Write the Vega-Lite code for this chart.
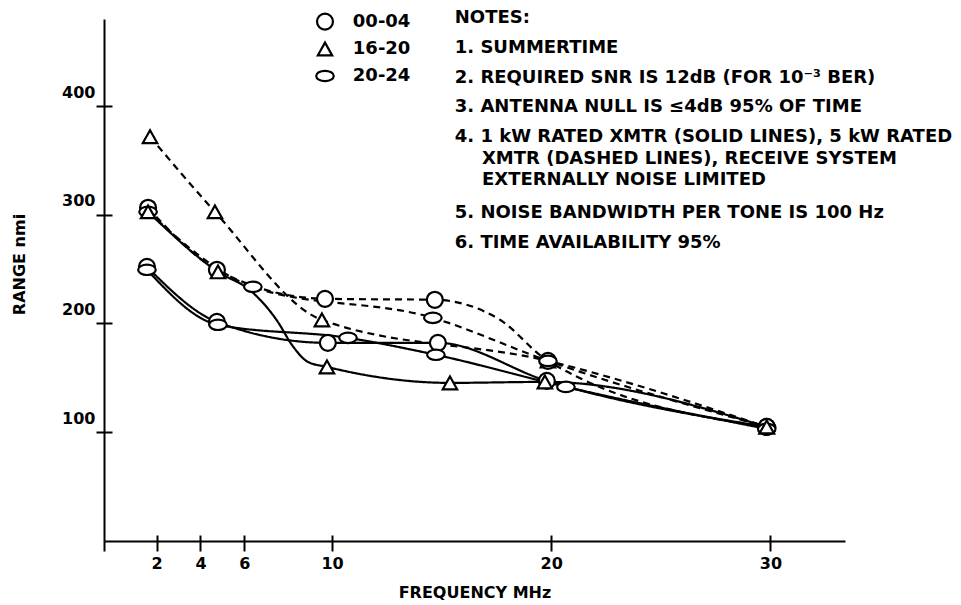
{
  "$schema": "https://vega.github.io/schema/vega-lite/v6.json",
  "width": 741,
  "height": 522,
  "autosize": {"type": "none"},
  "padding": {"left": 104, "top": 19, "right": 116, "bottom": 64},
  "background": "white",
  "config": {
    "view": {"stroke": null},
    "axis": {
      "grid": false,
      "domainColor": "black",
      "tickColor": "black",
      "labelColor": "black",
      "titleColor": "black",
      "labelFont": "DejaVu Sans",
      "labelFontWeight": "bold",
      "labelFontSize": 16,
      "titleFont": "DejaVu Sans",
      "titleFontWeight": "bold",
      "titleFontSize": 16,
      "domainWidth": 2,
      "tickWidth": 2
    }
  },
  "datasets": {
    "curves": [
      {"time": "16-20", "power": "5 kW", "f": 1.70, "r": 371.8, "mark": true},
      {"time": "16-20", "power": "5 kW", "f": 4.66, "r": 302.7, "mark": true},
      {"time": "16-20", "power": "5 kW", "f": 9.54, "r": 203.3, "mark": true},
      {"time": "16-20", "power": "5 kW", "f": 19.85, "r": 165.6, "mark": true},
      {"time": "16-20", "power": "5 kW", "f": 29.83, "r": 104.9, "mark": true},
      {"time": "00-04", "power": "5 kW", "f": 1.61, "r": 306.4, "mark": true},
      {"time": "00-04", "power": "5 kW", "f": 4.75, "r": 249.4, "mark": true},
      {"time": "00-04", "power": "5 kW", "f": 9.68, "r": 222.7, "mark": true},
      {"time": "00-04", "power": "5 kW", "f": 14.69, "r": 221.8, "mark": true},
      {"time": "00-04", "power": "5 kW", "f": 17.66, "r": 203.4, "mark": false},
      {"time": "00-04", "power": "5 kW", "f": 19.85, "r": 165.6, "mark": true},
      {"time": "00-04", "power": "5 kW", "f": 29.83, "r": 104.9, "mark": true},
      {"time": "20-24", "power": "5 kW", "f": 1.61, "r": 302.7, "mark": true},
      {"time": "20-24", "power": "5 kW", "f": 6.39, "r": 233.7, "mark": true},
      {"time": "20-24", "power": "5 kW", "f": 14.6, "r": 205.2, "mark": true},
      {"time": "20-24", "power": "5 kW", "f": 19.85, "r": 165.6, "mark": true},
      {"time": "20-24", "power": "5 kW", "f": 29.83, "r": 104.9, "mark": true},
      {"time": "00-04", "power": "1 kW", "f": 1.56, "r": 252.1, "mark": true},
      {"time": "00-04", "power": "1 kW", "f": 4.75, "r": 201.5, "mark": true},
      {"time": "00-04", "power": "1 kW", "f": 9.81, "r": 182.2, "mark": true},
      {"time": "00-04", "power": "1 kW", "f": 14.83, "r": 182.2, "mark": true},
      {"time": "00-04", "power": "1 kW", "f": 19.8, "r": 147.2, "mark": true},
      {"time": "00-04", "power": "1 kW", "f": 29.83, "r": 104.9, "mark": true},
      {"time": "20-24", "power": "1 kW", "f": 1.56, "r": 249.4, "mark": true},
      {"time": "20-24", "power": "1 kW", "f": 4.8, "r": 198.8, "mark": true},
      {"time": "20-24", "power": "1 kW", "f": 10.73, "r": 186.8, "mark": true},
      {"time": "20-24", "power": "1 kW", "f": 14.74, "r": 171.2, "mark": true},
      {"time": "20-24", "power": "1 kW", "f": 20.67, "r": 141.7, "mark": true},
      {"time": "20-24", "power": "1 kW", "f": 29.83, "r": 103.1, "mark": true},
      {"time": "16-20", "power": "1 kW", "f": 1.61, "r": 302.7, "mark": true},
      {"time": "16-20", "power": "1 kW", "f": 4.8, "r": 247.5, "mark": true},
      {"time": "16-20", "power": "1 kW", "f": 6.35, "r": 229.1, "mark": false},
      {"time": "16-20", "power": "1 kW", "f": 7.53, "r": 201.5, "mark": false},
      {"time": "16-20", "power": "1 kW", "f": 8.17, "r": 180.4, "mark": false},
      {"time": "16-20", "power": "1 kW", "f": 8.9, "r": 164.7, "mark": false},
      {"time": "16-20", "power": "1 kW", "f": 9.77, "r": 160.1, "mark": true},
      {"time": "16-20", "power": "1 kW", "f": 15.38, "r": 145.4, "mark": true},
      {"time": "16-20", "power": "1 kW", "f": 19.71, "r": 146.3, "mark": true},
      {"time": "16-20", "power": "1 kW", "f": 29.83, "r": 104.9, "mark": true}
    ],
    "legend": [
      {"time": "00-04", "sx": 9.68, "tx": 10.95, "y": 477.6},
      {"time": "16-20", "sx": 9.68, "tx": 10.95, "y": 452.4},
      {"time": "20-24", "sx": 9.68, "tx": 10.95, "y": 427.6}
    ],
    "notes": [
      {"t": "NOTES:", "x": 15.6, "y": 481},
      {"t": "1. SUMMERTIME", "x": 15.6, "y": 453.7},
      {"t": "2. REQUIRED SNR IS 12dB (FOR 10⁻³ BER)", "x": 15.6, "y": 426},
      {"t": "3. ANTENNA NULL IS ≤4dB 95% OF TIME", "x": 15.6, "y": 399.4},
      {"t": "4. 1 kW RATED XMTR (SOLID LINES), 5 kW RATED", "x": 15.6, "y": 371.8},
      {"t": "XMTR (DASHED LINES), RECEIVE SYSTEM", "x": 16.84, "y": 351.5},
      {"t": "EXTERNALLY NOISE LIMITED", "x": 16.84, "y": 332},
      {"t": "5. NOISE BANDWIDTH PER TONE IS 100 Hz", "x": 15.6, "y": 302},
      {"t": "6. TIME AVAILABILITY 95%", "x": 15.6, "y": 274}
    ]
  },
  "layer": [
    {
      "data": {"name": "curves"},
      "mark": {"type": "line", "interpolate": "monotone", "color": "black", "strokeWidth": 2.2},
      "encoding": {
        "x": {
          "field": "f", "type": "quantitative",
          "scale": {"domain": [-0.4, 33.4], "nice": false, "zero": false},
          "axis": {"orient": "bottom", "values": [-0.4, 2, 4, 6, 10, 20, 30], "labelExpr": "datum.value < 0 ? '' : datum.label", "tickSize": 10, "labelPadding": 4, "title": "FREQUENCY MHz", "titlePadding": 13}
        },
        "y": {
          "field": "r", "type": "quantitative",
          "scale": {"domain": [0, 480], "nice": false},
          "axis": {"orient": "left", "values": [100, 200, 300, 400], "tickSize": 8, "labelPadding": 1, "labelOffset": -14, "title": "RANGE nmi", "titlePadding": 34, "titleY": 245}
        },
        "detail": {"field": "time"},
        "strokeDash": {"field": "power", "type": "nominal", "scale": {"domain": ["1 kW", "5 kW"], "range": [[1, 0], [7, 5]]}, "legend": null}
      }
    },
    {
      "data": {"name": "curves"},
      "transform": [{"filter": "datum.mark"}],
      "mark": {"type": "point", "filled": true, "fill": "white", "stroke": "black", "strokeWidth": 2.2, "size": 256, "opacity": 1},
      "encoding": {
        "x": {"field": "f", "type": "quantitative", "axis": {"orient": "bottom", "offset": -6, "values": [2, 4, 6, 10, 20, 30], "tickSize": 6, "labels": false, "domain": false, "title": null}},
        "y": {"field": "r", "type": "quantitative", "axis": {"orient": "left", "offset": -8, "values": [100, 200, 300, 400], "tickSize": 8, "labels": false, "domain": false, "title": null}},
        "shape": {
          "field": "time", "type": "nominal",
          "scale": {"domain": ["00-04", "16-20", "20-24"], "range": ["circle", "M-0.9,0.8L0,-0.8L0.9,0.8Z", "M-1.1,0C-1.1,-0.36 -0.6,-0.65 0,-0.65C0.6,-0.65 1.1,-0.36 1.1,0C1.1,0.36 0.6,0.65 0,0.65C-0.6,0.65 -1.1,0.36 -1.1,0Z"]},
          "legend": null
        }
      }
    },
    {
      "data": {"name": "legend"},
      "mark": {"type": "point", "filled": true, "fill": "white", "stroke": "black", "strokeWidth": 2.2, "size": 256, "opacity": 1},
      "encoding": {
        "x": {"field": "sx", "type": "quantitative", "axis": null},
        "y": {"field": "y", "type": "quantitative", "axis": null},
        "shape": {"field": "time", "type": "nominal", "legend": null}
      }
    },
    {
      "data": {"name": "legend"},
      "mark": {"type": "text", "align": "left", "baseline": "middle", "font": "DejaVu Sans", "fontWeight": "bold", "fontSize": 18, "color": "black"},
      "encoding": {
        "x": {"field": "tx", "type": "quantitative", "axis": null},
        "y": {"field": "y", "type": "quantitative", "axis": null},
        "text": {"field": "time"}
      }
    },
    {
      "data": {"name": "notes"},
      "mark": {"type": "text", "align": "left", "baseline": "middle", "font": "DejaVu Sans", "fontWeight": "bold", "fontSize": 18, "color": "black"},
      "encoding": {
        "x": {"field": "x", "type": "quantitative", "axis": null},
        "y": {"field": "y", "type": "quantitative", "axis": null},
        "text": {"field": "t"}
      }
    }
  ],
  "resolve": {"axis": {"x": "independent", "y": "independent"}}
}
